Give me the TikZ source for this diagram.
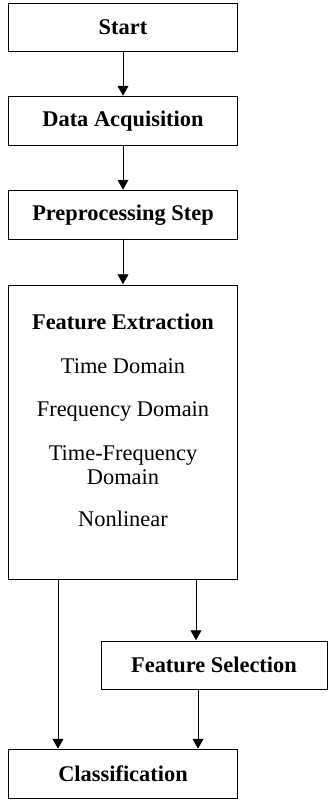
\documentclass[tikz,border=0pt]{standalone}
\usepackage{fontspec}
\setmainfont{Liberation Serif}
\usetikzlibrary{arrows.meta, positioning}

\begin{document}
\begin{tikzpicture}[x=1pt,y=1pt]
				\tikzset {>={Triangle[width=12pt,length=11pt]}, line width=1.2pt, node distance=44pt, 									state/.style={draw, minimum width=229pt, minimum height=48.5pt, inner sep=0pt, outer sep=0pt, align=center, font=\fontsize{22.4}{23.5}\selectfont\bfseries} }
					\useasboundingbox (0,0) rectangle (328,802);
					\node[state] (0) at (123,774.75) {Start};
					\node[state, below=45pt of 0] (1) {Data Acquisition};
					\node[state, below=45.5pt of 1] (2) {Preprocessing Step};
					\node[state, below=46pt of 2, minimum height=294pt] (3) {Feature Extraction\\[20.5pt]
						{\mdseries Time Domain}\\[19.5pt]
						{\mdseries Frequency Domain}\\[21pt]
						{\mdseries Time-Frequency}\\{\mdseries Domain}\\[18.5pt]
						{\mdseries Nonlinear}\\[0.5pt]\mbox{}};
					\node[state, below=62pt of 3, xshift=91pt, minimum width=225.5pt] (4) {Feature Selection};
					\node[state, below=60pt of 4, xshift=-91pt] (5) {Classification};
										
					\draw[->] (0) -- (1);
					\draw[->] (1) -- (2);
					\draw[->] (2) -- (3);
					\draw[->] ([xshift=-65pt]3.south) -- ([xshift=-65pt]3.south |- 5.north);
					\draw[->] ([xshift=73pt]3.south) -- ([xshift=73pt]3.south |- 4.north);
					\draw[->] ([xshift=-16pt]4.south) -- ([xshift=-16pt]4.south |- 5.north);
			\end{tikzpicture}
\end{document}
